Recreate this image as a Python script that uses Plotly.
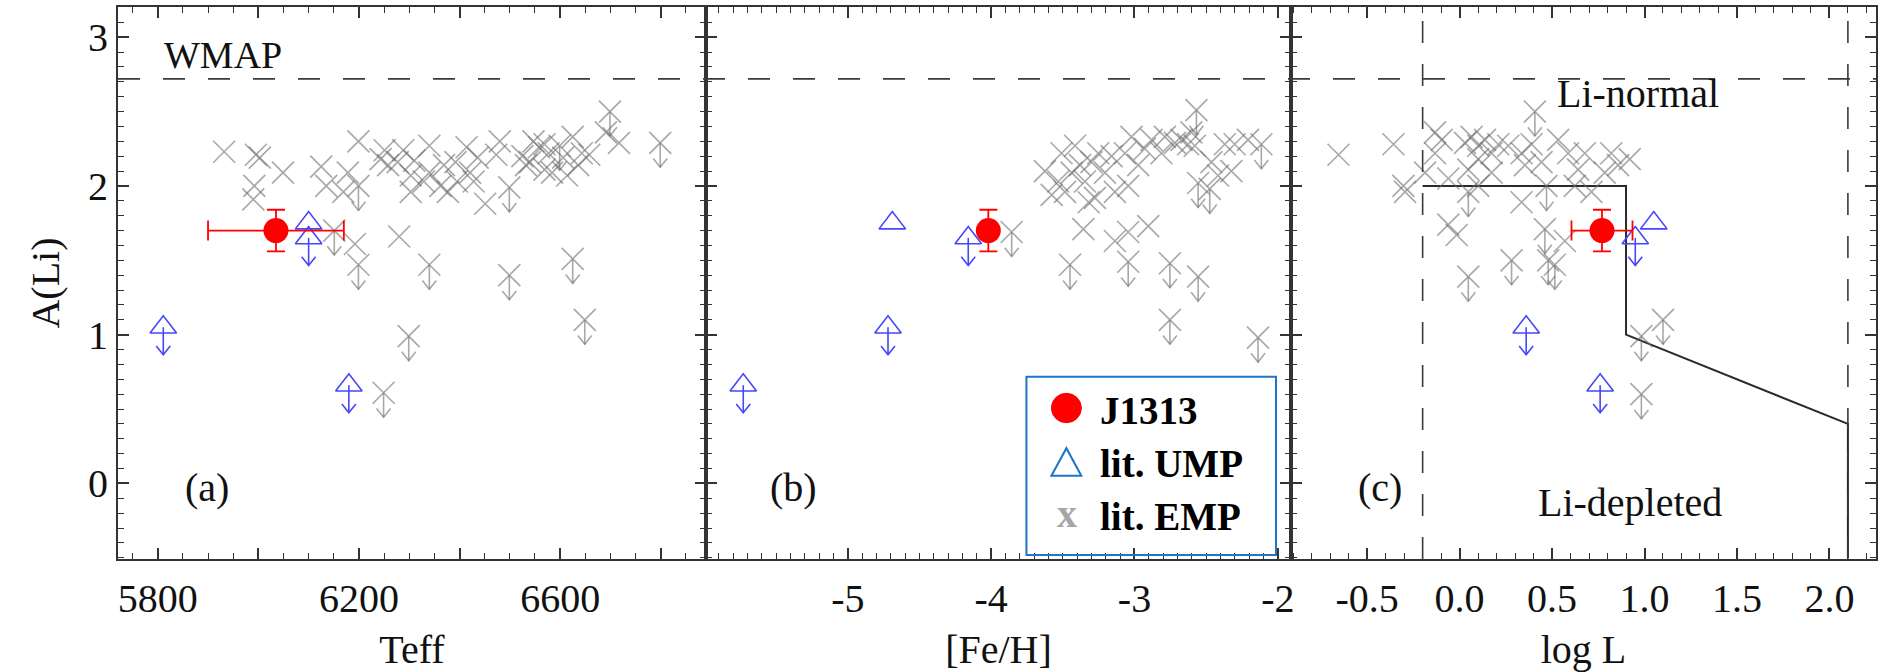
import plotly.graph_objects as go

# ---------------- data ----------------
# J1313 (this work)
j_teff, j_teff_err = 6035, 135
j_feh = -4.02
j_logl, j_logl_err = 0.77, 0.165
j_ali, j_ali_err = 1.70, 0.14

# literature UMP stars (ul = 1 -> upper limit)
ump_teff = [5811, 6180, 6100, 6100]
ump_feh = [-4.72, -5.73, -4.69, -4.16]
ump_logl = [0.36, 0.76, 1.05, 0.95]
ump_ali = [1.05, 0.66, 1.75, 1.65]
ump_ul = [1, 1, 0, 1]

# literature EMP stars, panel (a): Teff vs A(Li)
emp_a_teff = [5932, 5995, 6003, 6049, 5992, 5990, 6125, 6135, 6178, 6199, 6199, 6169,
              6251, 6258, 6288, 6340, 6303, 6340, 6362, 6377, 6414, 6421, 6392, 6303,
              6480, 6473, 6499, 6451, 6547, 6558, 6569, 6577, 6540, 6584, 6599, 6625,
              6643, 6614, 6699, 6691, 6717, 6799, 6151, 6192, 6199, 6280, 6340, 6499,
              6625, 6649, 6299, 6249, 6243, 6277, 6310, 6329, 6369, 6395, 6428, 6436,
              6525, 6532, 6569, 6606, 6636, 6658]
emp_a_ali = [2.23, 2.21, 2.19, 2.09, 2.00, 1.91, 2.13, 2.00, 2.09, 2.00, 2.30, 1.96,
             2.24, 2.14, 2.24, 2.27, 2.07, 2.09, 2.00, 1.96, 2.26, 2.09, 2.16, 1.96,
             2.30, 2.21, 1.99, 1.88, 2.30, 2.26, 2.28, 2.22, 2.16, 2.09, 2.27, 2.33,
             2.22, 2.07, 2.50, 2.36, 2.29, 2.29, 1.70, 1.61, 1.47, 1.66, 1.47, 1.40,
             1.51, 1.10, 0.99, 0.61, 2.18, 2.16, 2.17, 2.03, 2.14, 2.03, 2.03, 2.19,
             2.20, 2.14, 2.11, 2.19, 2.14, 2.21]
emp_a_ul = [0, 0, 0, 0, 0, 0, 0, 0, 0, 1, 0, 0,
            0, 0, 0, 0, 0, 0, 0, 0, 0, 0, 0, 0,
            0, 0, 1, 0, 0, 0, 0, 0, 0, 0, 1, 0,
            0, 0, 1, 0, 0, 1, 1, 0, 1, 0, 1, 1,
            1, 1, 1, 1, 0, 0, 0, 0, 0, 0, 0, 0,
            0, 0, 0, 0, 0, 0]

# panel (b): [Fe/H] vs A(Li)
emp_b_feh = [-3.625, -3.857, -3.450, -3.357, -3.137, -3.044, -3.044, -2.904, -2.753, -2.556,
             -2.753, -2.138, -2.115, -2.568, -2.556, -2.475, -2.301, -2.324, -2.417, -2.463,
             -3.532, -3.485, -3.509, -3.415, -3.380, -3.346, -3.276, -3.253, -3.206, -3.160,
             -3.067, -3.044, -3.021, -2.974, -2.928, -2.881, -2.812, -2.788, -2.718, -2.672,
             -2.626, -2.579, -2.603, -3.578, -3.439, -3.137, -3.300, -2.208, -3.320, -2.370]
emp_b_ali = [2.10, 1.69, 1.47, 1.71, 1.63, 1.69, 1.49, 1.73, 1.48, 1.39,
             1.10, 0.98, 2.28, 2.51, 2.02, 1.98, 2.28, 2.10, 2.07, 2.16,
             2.03, 1.96, 2.22, 2.27, 2.14, 2.03, 1.92, 2.22, 2.09, 2.20,
             2.22, 2.00, 2.33, 2.14, 2.25, 2.31, 2.22, 2.33, 2.29, 2.31,
             2.28, 2.27, 2.36, 1.94, 2.09, 1.96, 2.16, 2.31, 1.89, 2.28]
emp_b_ul = [0, 1, 1, 0, 0, 0, 1, 0, 1, 1,
            1, 1, 1, 1, 1, 1, 0, 0, 0, 0,
            0, 0, 0, 0, 0, 0, 0, 0, 0, 0,
            0, 0, 0, 0, 0, 0, 0, 0, 0, 0,
            0, 0, 0, 0, 0, 0, 0, 0, 0, 0]

# panel (c): log L vs A(Li)
emp_c_logl = [-0.655, -0.358, -0.304, -0.295, -0.187, -0.133, -0.097, -0.061, -0.016, 0.047,
              0.047, 0.101, 0.029, 0.065, 0.101, 0.137, 0.173, 0.101, 0.047, 0.209,
              0.281, 0.335, 0.407, 0.263, 0.335, 0.389, 0.443, 0.353, 0.470, 0.461,
              0.479, 0.515, 0.569, 0.533, 0.587, 0.641, 0.677, 0.713, 0.785, 0.857,
              0.920, 0.623, 0.983, 1.100, 0.983, -0.133, -0.061, 0.173, 0.820]
emp_c_ali = [2.21, 2.28, 2.00, 1.96, 2.09, 2.36, 2.31, 1.74, 1.67, 1.39,
             1.96, 2.00, 2.29, 2.33, 2.27, 2.31, 2.22, 2.18, 2.11, 2.28,
             1.50, 1.89, 2.50, 2.27, 2.22, 2.28, 2.16, 2.14, 2.00, 1.71,
             1.50, 1.47, 1.63, 2.31, 2.22, 2.11, 2.22, 1.96, 2.09, 2.14,
             2.18, 2.00, 0.99, 1.10, 0.60, 2.22, 2.05, 2.09, 2.22]
emp_c_ul = [0, 0, 0, 0, 0, 0, 0, 0, 0, 1,
            1, 0, 0, 0, 0, 0, 0, 0, 0, 0,
            1, 0, 1, 0, 0, 0, 0, 0, 1, 1,
            1, 1, 0, 0, 0, 0, 0, 0, 0, 0,
            0, 0, 1, 1, 1, 0, 0, 0, 0]

# reference lines
wmap_ali = 2.72
logl_limits = [-0.2, 2.1]
bound_logl = [-0.2, 0.9, 0.9, 2.1, 2.1]
bound_ali = [2.0, 2.0, 1.0, 0.4, -0.5]

# axis ticks
teff_ticks = [5800, 6000, 6200, 6400, 6600, 6800]
teff_labels = ["5800", "", "6200", "", "6600", ""]
feh_ticks = [-5, -4, -3, -2]
feh_labels = ["-5", "-4", "-3", "-2"]
logl_ticks = [-0.5, 0.0, 0.5, 1.0, 1.5, 2.0]
logl_labels = ["-0.5", "0.0", "0.5", "1.0", "1.5", "2.0"]
ali_ticks = [0, 1, 2, 3]
ali_labels = ["0", "1", "2", "3"]

# ---------------- layout geometry ----------------
W, H = 1880, 672
ML, MR, MT, MB = 118, 1, 7, 102
PW, PH = W - ML - MR, H - MT - MB
edges = [118, 707, 1293, 1879]
doms = [((edges[i] - ML) / PW, (edges[i + 1] - ML) / PW) for i in range(3)]
xranges = [[5721, 6890], [-5.99, -1.908], [-0.912, 2.252]]
yrange = [-0.508, 3.203]

SERIF = "Liberation Serif"
GRAY = "rgba(110,110,110,0.6)"
BLUE = "rgb(70,70,250)"
RED = "#ff0000"
AX = "#333333"


def px2paper_x(px):
    return (px - ML) / PW


def px2paper_y(py):
    return (H - MB - py) / PH


def arrows(xs, ys, flags, panel, length_px=25, head_w=7, head_h=9):
    xr = xranges[panel]
    kx = (xr[1] - xr[0]) / (edges[panel + 1] - edges[panel])
    ky = (yrange[1] - yrange[0]) / PH
    X, Y = [], []
    for x, y, f in zip(xs, ys, flags):
        if not f:
            continue
        tip = y - length_px * ky
        X += [x, x, None, x - head_w * kx, x, x + head_w * kx, None]
        Y += [y, tip, None, tip + head_h * ky, tip, tip + head_h * ky, None]
    return X, Y


fig = go.Figure()

panels = [
    (emp_a_teff, emp_a_ali, emp_a_ul, ump_teff, j_teff, j_teff_err),
    (emp_b_feh, emp_b_ali, emp_b_ul, ump_feh, j_feh, None),
    (emp_c_logl, emp_c_ali, emp_c_ul, ump_logl, j_logl, j_logl_err),
]

for i, (ex, ey, eul, ux, jx, jxe) in enumerate(panels):
    xa = "x" if i == 0 else f"x{i + 1}"
    ya = "y" if i == 0 else f"y{i + 1}"
    if i == 2:
        fig.add_trace(go.Scatter(x=bound_logl, y=bound_ali, mode="lines",
                                 line=dict(color="#2a2a2a", width=2),
                                 xaxis=xa, yaxis=ya, showlegend=False, hoverinfo="skip"))
    ax_, ay_ = arrows(ex, ey, eul, i)
    fig.add_trace(go.Scatter(x=ax_, y=ay_, mode="lines", line=dict(color=GRAY, width=1.6),
                             xaxis=xa, yaxis=ya, showlegend=False, hoverinfo="skip"))
    fig.add_trace(go.Scatter(x=ex, y=ey, mode="markers", name="lit. EMP",
                             marker=dict(symbol="x-thin-open", size=22, color=GRAY,
                                         line=dict(width=1.6, color=GRAY)),
                             xaxis=xa, yaxis=ya, showlegend=False))
    bx, by = arrows(ux, ump_ali, ump_ul, i, length_px=28)
    fig.add_trace(go.Scatter(x=bx, y=by, mode="lines", line=dict(color=BLUE, width=1.6),
                             xaxis=xa, yaxis=ya, showlegend=False, hoverinfo="skip"))
    fig.add_trace(go.Scatter(x=ux, y=ump_ali, mode="markers", name="lit. UMP",
                             marker=dict(symbol="triangle-up-open", size=23, color=BLUE,
                                         line=dict(width=1.6, color=BLUE)),
                             xaxis=xa, yaxis=ya, showlegend=False))
    fig.add_trace(go.Scatter(x=[jx], y=[j_ali], mode="markers", name="J1313",
                             marker=dict(symbol="circle", size=25, color=RED),
                             error_y=dict(type="data", array=[j_ali_err], color=RED,
                                          thickness=1.8, width=9),
                             error_x=(dict(type="data", array=[jxe], color=RED,
                                           thickness=1.8, width=10) if jxe else None),
                             xaxis=xa, yaxis=ya, showlegend=False))

tickfont = dict(family=SERIF, size=40, color="#111111")
titlefont = dict(family=SERIF, size=40, color="#111111")

common_x = dict(showline=True, linecolor=AX, linewidth=2, mirror="ticks", ticks="inside",
                ticklen=11, tickwidth=1.5, tickcolor=AX, showgrid=False, zeroline=False,
                tickfont=tickfont, tickmode="array")

xtitles = ["Teff", "[Fe/H]", "log L"]
xticks = [(teff_ticks, teff_labels, 50, 5800), (feh_ticks, feh_labels, 0.1, -5),
          (logl_ticks, logl_labels, 0.1, 0)]
for i in range(3):
    key = "xaxis" if i == 0 else f"xaxis{i + 1}"
    tv, tt, md, m0 = xticks[i]
    fig.layout[key] = dict(common_x, domain=list(doms[i]), range=xranges[i],
                           anchor="y" if i == 0 else f"y{i + 1}",
                           tickvals=tv, ticktext=tt, ticklabelstandoff=3,
                           minor=dict(ticks="inside", ticklen=6, dtick=md, tick0=m0,
                                      tickwidth=1.3, tickcolor=AX, showgrid=False),
                           title=dict(text=xtitles[i], font=titlefont, standoff=22))
    ykey = "yaxis" if i == 0 else f"yaxis{i + 1}"
    fig.layout[ykey] = dict(common_x, range=yrange, domain=[0, 1],
                            anchor="x" if i == 0 else f"x{i + 1}",
                            tickvals=ali_ticks, ticktext=ali_labels,
                            showticklabels=(i == 0),
                            minor=dict(ticks="inside", ticklen=6, dtick=0.1, tick0=0,
                                       tickwidth=1.3, tickcolor=AX, showgrid=False),
                            title=dict(text="A(Li)" if i == 0 else "", font=titlefont,
                                       standoff=16))

shapes = [
    dict(type="line", xref="paper", yref="y", x0=0, x1=1, y0=wmap_ali, y1=wmap_ali,
         line=dict(color="#3a3a3a", width=1.6, dash="22px,23px")),
]
for lv in logl_limits:
    shapes.append(dict(type="line", xref="x3", yref="paper", x0=lv, x1=lv, y0=0, y1=1,
                       line=dict(color="#3a3a3a", width=1.6, dash="22px,21px")))
# legend box and keys
shapes.append(dict(type="rect", xref="paper", yref="paper",
                   x0=px2paper_x(1028), x1=px2paper_x(1278),
                   y0=px2paper_y(566), y1=px2paper_y(384),
                   line=dict(color="#1f74c4", width=2), fillcolor="rgba(0,0,0,0)"))
shapes.append(dict(type="circle", xref="paper", yref="paper",
                   x0=px2paper_x(1053), x1=px2paper_x(1083),
                   y0=px2paper_y(431), y1=px2paper_y(401),
                   line=dict(color=RED, width=1), fillcolor=RED))
tri = [(1053, 485), (1083, 485), (1068, 457)]
path = "M " + " L ".join(f"{px2paper_x(a):.5f},{px2paper_y(b):.5f}" for a, b in tri) + " Z"
shapes.append(dict(type="path", xref="paper", yref="paper", path=path,
                   line=dict(color="#1f74c4", width=2)))

ann_font = dict(family=SERIF, size=40, color="#111111")
annotations = [
    dict(x=5930, y=2.88, xref="x", yref="y", text="WMAP", showarrow=False,
         font=dict(family=SERIF, size=38, color="#111111")),
    dict(x=5898, y=-0.03, xref="x", yref="y", text="(a)", showarrow=False, font=ann_font),
    dict(x=-5.38, y=-0.03, xref="x2", yref="y2", text="(b)", showarrow=False, font=ann_font),
    dict(x=-0.43, y=-0.03, xref="x3", yref="y3", text="(c)", showarrow=False, font=ann_font),
    dict(x=0.966, y=2.62, xref="x3", yref="y3", text="Li-normal", showarrow=False,
         font=ann_font),
    dict(x=0.923, y=-0.13, xref="x3", yref="y3", text="Li-depleted", showarrow=False,
         font=ann_font),
]
leg_font = dict(family=SERIF, size=39, color="#000000")
for label, py in [("J1313", 419), ("lit. UMP", 473), ("lit. EMP", 527)]:
    annotations.append(dict(x=px2paper_x(1100), y=px2paper_y(py), xref="paper",
                            yref="paper", xanchor="left", yanchor="middle",
                            text=f"<b>{label}</b>", showarrow=False, font=leg_font))
annotations.append(dict(x=px2paper_x(1069), y=px2paper_y(524), xref="paper", yref="paper",
                        xanchor="center", yanchor="middle", text="<b>x</b>",
                        showarrow=False,
                        font=dict(family=SERIF, size=40, color="#a6a6a6")))

fig.update_layout(width=W, height=H, margin=dict(l=ML, r=MR, t=MT, b=MB),
                  paper_bgcolor="white", plot_bgcolor="white",
                  shapes=shapes, annotations=annotations, showlegend=False)

fig.write_html("out.html", config={"displayModeBar": False},
               post_script="document.body.style.margin='0';"
                           "document.body.style.overflow='hidden';")
